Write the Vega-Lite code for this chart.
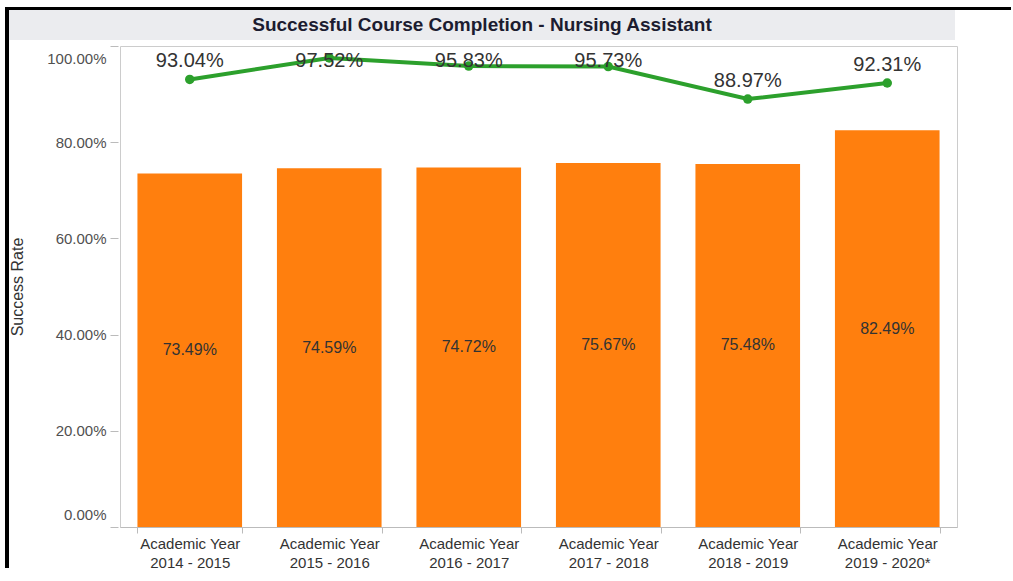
{
  "$schema": "https://vega.github.io/schema/vega-lite/v6.json",
  "background": "white",
  "padding": {"left": 5, "top": 7, "right": 0, "bottom": 0},
  "config": {"font": "Liberation Sans"},
  "datasets": {
    "rates": [
      {"year": "Academic Year 2014 - 2015", "success": 0.7349, "completion": 0.9304},
      {"year": "Academic Year 2015 - 2016", "success": 0.7459, "completion": 0.9752},
      {"year": "Academic Year 2016 - 2017", "success": 0.7472, "completion": 0.9583},
      {"year": "Academic Year 2017 - 2018", "success": 0.7567, "completion": 0.9573},
      {"year": "Academic Year 2018 - 2019", "success": 0.7548, "completion": 0.8897},
      {"year": "Academic Year 2019 - 2020*", "success": 0.8249, "completion": 0.9231}
    ]
  },
  "spacing": 0,
  "vconcat": [
    {
      "width": 1006,
      "height": 3,
      "view": {"fill": "black", "stroke": null},
      "data": {"values": []},
      "mark": {"type": "text", "text": ""}
    },
    {
      "spacing": 0,
      "hconcat": [
        {
          "width": 4,
          "height": 558,
          "view": {"fill": "black", "stroke": null},
          "data": {"values": []},
          "mark": {"type": "text", "text": ""}
        },
        {
          "spacing": 5,
          "vconcat": [
            {
              "width": 946,
              "height": 30,
              "view": {"fill": "#ebecef", "stroke": null},
              "data": {"values": [{"t": "Successful Course Completion - Nursing Assistant"}]},
              "mark": {"type": "text", "fontSize": 19, "fontWeight": "bold", "color": "#1c1c30"},
              "encoding": {"text": {"field": "t"}}
            },
            {
              "spacing": 0,
              "hconcat": [
                {
                  "width": 109,
                  "height": 481,
                  "view": {"stroke": null},
                  "data": {"name": "rates"},
                  "mark": {"type": "point", "opacity": 0},
                  "encoding": {
                    "y": {
                      "field": "success",
                      "type": "quantitative",
                      "scale": {"domain": [0, 1]},
                      "axis": {
                        "offset": -109,
                        "title": "Success Rate",
                        "titleFontSize": 16,
                        "titleFontWeight": "normal",
                        "titleColor": "#333333",
                        "titlePadding": 22,
                        "format": ".2%",
                        "values": [0, 0.2, 0.4, 0.6, 0.8, 1],
                        "grid": false,
                        "domain": false,
                        "labelFontSize": 15,
                        "labelColor": "#505050",
                        "labelFlush": true,
                        "labelFlushOffset": -5,
                        "labelPadding": 4,
                        "tickSize": 8,
                        "tickColor": "#bbbbbb",
                        "minExtent": 71,
                        "maxExtent": 71
                      }
                    }
                  }
                },
                {
                  "width": 837,
                  "height": 481,
                  "view": {"stroke": "#cccccc"},
                  "data": {"name": "rates"},
                  "transform": [
                    {"calculate": "datum.success / 2", "as": "mid"},
                    {"calculate": "min(datum.completion, 0.9304)", "as": "labelPos"}
                  ],
                  "encoding": {
                    "x": {
                      "field": "year",
                      "type": "nominal",
                      "sort": null,
                      "scale": {"paddingInner": 0.25, "paddingOuter": 0.125},
                      "axis": {
                        "title": null,
                        "labelAngle": 0,
                        "labelExpr": "datum.label ? ['Academic Year', slice(datum.label, 14)] : ''",
                        "labelFontSize": 15,
                        "labelColor": "#333333",
                        "labelLineHeight": 19,
                        "labelPadding": 3,
                        "tickBand": "extent",
                        "tickSize": 6,
                        "tickColor": "#bbbbbb",
                        "domainColor": "#bbbbbb"
                      }
                    }
                  },
                  "layer": [
                    {
                      "mark": {"type": "bar", "color": "#ff7f0e"},
                      "encoding": {
                        "y": {"field": "success", "type": "quantitative", "scale": {"domain": [0, 1]}, "axis": null}
                      }
                    },
                    {
                      "mark": {"type": "text", "fontSize": 16, "color": "#333333"},
                      "encoding": {
                        "y": {"field": "mid", "type": "quantitative", "axis": null},
                        "text": {"field": "success", "type": "quantitative", "format": ".2%"}
                      }
                    },
                    {
                      "mark": {"type": "line", "color": "#2ca02c", "strokeWidth": 4, "point": {"filled": true, "size": 90, "color": "#2ca02c"}},
                      "encoding": {
                        "y": {"field": "completion", "type": "quantitative", "axis": null}
                      }
                    },
                    {
                      "mark": {"type": "text", "fontSize": 20, "color": "#333333", "dy": -18},
                      "encoding": {
                        "y": {"field": "labelPos", "type": "quantitative", "axis": null},
                        "text": {"field": "completion", "type": "quantitative", "format": ".2%"}
                      }
                    }
                  ]
                }
              ]
            }
          ]
        }
      ]
    }
  ]
}
